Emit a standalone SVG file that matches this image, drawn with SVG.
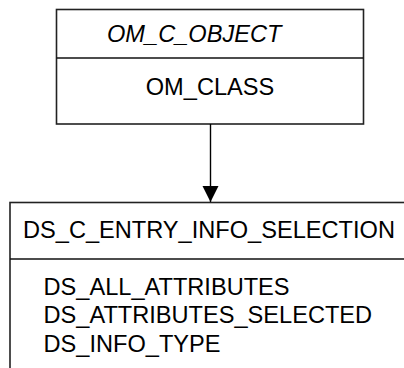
<svg xmlns="http://www.w3.org/2000/svg" width="404" height="368" viewBox="0 0 404 368">
<style>
.box{fill:#fff;stroke:#222;stroke-width:1.6}
.div{stroke:#111;stroke-width:1.4}
text{font-family:"Liberation Sans",Arial,sans-serif;font-size:23.6px;fill:#000}
.it{font-style:italic}
</style>
<defs>
<marker id="arr" markerWidth="16" markerHeight="18" refX="16" refY="8" orient="auto" markerUnits="userSpaceOnUse" viewBox="0 0 16 16">
<path d="M0,0 L16,8 L0,16 Z" fill="#000"/>
</marker>
</defs>
<g id="om_c_object">
<rect class="box" x="56.5" y="9.5" width="307" height="114.5"/>
<line class="div" x1="56.5" y1="58" x2="363.5" y2="58"/>
<text class="it" x="107" y="41.5">OM_C_OBJECT</text>
<text x="210" y="95" text-anchor="middle">OM_CLASS</text>
</g>
<g id="ds_c_entry_info_selection">
<rect class="box" x="10" y="202.5" width="420" height="200"/>
<line class="div" x1="10" y1="259" x2="404" y2="259"/>
<text x="23" y="238">DS_C_ENTRY_INFO_SELECTION</text>
<text x="43.5" y="295">DS_ALL_ATTRIBUTES</text>
<text x="43.5" y="323">DS_ATTRIBUTES_SELECTED</text>
<text x="43.5" y="351.5">DS_INFO_TYPE</text>
</g>
<g id="connectors">
<line x1="210.5" y1="124" x2="210.5" y2="202" stroke="#000" stroke-width="1.4" marker-end="url(#arr)"/>
</g>
</svg>
